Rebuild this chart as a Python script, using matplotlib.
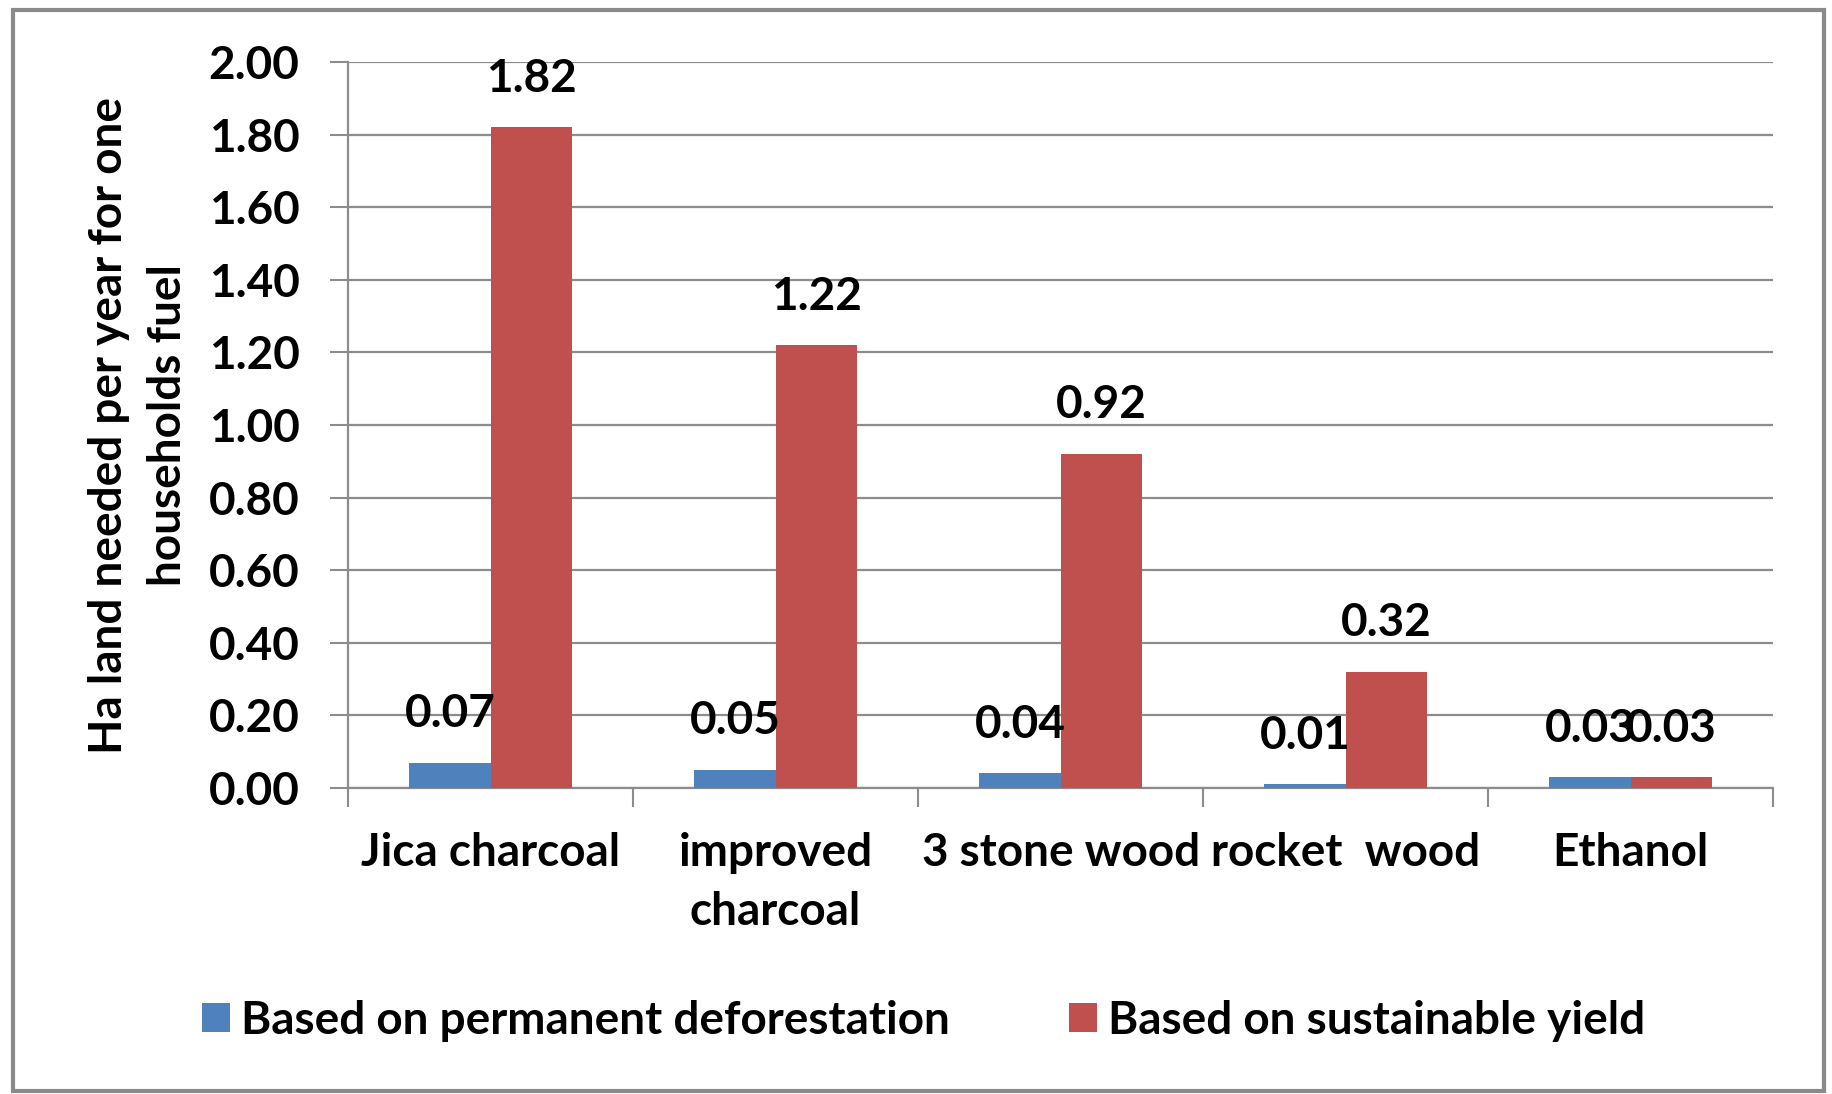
import numpy as np
import matplotlib
matplotlib.use("Agg")
import matplotlib.pyplot as plt
from matplotlib.patches import Rectangle
from matplotlib.ticker import FixedLocator


# ====================================================
# DATA
# ====================================================

categories = [
    "Jica charcoal",
    "improved\ncharcoal",
    "3 stone wood",
    "rocket  wood",
    "Ethanol"
]

deforestation = [0.07, 0.05, 0.04, 0.01, 0.03]

sustainable = [1.82, 1.22, 0.92, 0.32, 0.03]

series_names = [
    "Based on permanent deforestation",
    "Based on sustainable yield"
]

y_ticks = [0.0, 0.2, 0.4, 0.6, 0.8, 1.0, 1.2, 1.4, 1.6, 1.8, 2.0]


# ====================================================
# STYLE
# ====================================================

plt.rcParams["font.family"] = ["Lato", "DejaVu Sans"]
plt.rcParams["font.weight"] = "bold"

BLUE = "#4F81BD"
RED = "#C0504D"
GRID = "#8C8C8C"
FS = 33


# ====================================================
# FIGURE
# ====================================================

fig = plt.figure(
    figsize=(18.33, 10.94),
    dpi=100
)

ax = fig.add_axes([0.1899, 0.2797, 0.7774, 0.6636])

x = np.arange(len(categories))
width = 1 / 3.5

bars_a = ax.bar(
    x - width / 2,
    deforestation,
    width,
    color=BLUE,
    label=series_names[0],
    zorder=3
)

bars_b = ax.bar(
    x + width / 2,
    sustainable,
    width,
    color=RED,
    label=series_names[1],
    zorder=3
)

# value labels above each bar
for bars, values in [(bars_a, deforestation), (bars_b, sustainable)]:
    for b, v in zip(bars, values):
        ax.annotate(
            f"{v:.2f}",
            (b.get_x() + b.get_width() / 2, v),
            xytext=(0, 35),
            textcoords="offset points",
            ha="center",
            va="center",
            fontsize=FS,
            fontweight="bold",
            zorder=4
        )


# ====================================================
# AXES
# ====================================================

ax.set_xlim(-0.5, len(categories) - 0.5)
ax.set_ylim(0, 2.0)

ax.set_yticks(y_ticks)
ax.set_yticklabels([f"{t:.2f}" for t in y_ticks], fontsize=FS, fontweight="bold")

ax.set_xticks(x)
ax.set_xticklabels(categories, fontsize=FS, fontweight="bold", linespacing=1.5)
ax.xaxis.set_minor_locator(FixedLocator(np.arange(-0.5, len(categories), 1.0)))

ax.tick_params(axis="x", which="major", length=0, pad=32)
ax.tick_params(axis="x", which="minor", length=14, width=1.5, color=GRID)
ax.tick_params(axis="y", which="major", length=13, width=1.5, color=GRID, pad=22)

ax.grid(axis="y", color=GRID, linewidth=1.6, zorder=0)

for side in ["top", "right"]:
    ax.spines[side].set_visible(False)

for side in ["left", "bottom"]:
    ax.spines[side].set_color(GRID)
    ax.spines[side].set_linewidth(1.6)

ax.set_ylabel(
    "Ha land needed per year for one\nhouseholds fuel",
    fontsize=FS,
    fontweight="bold",
    labelpad=14,
    linespacing=1.5
)


# ====================================================
# LEGEND + FRAME
# ====================================================

fig.legend(
    handles=[bars_a, bars_b],
    labels=series_names,
    loc="center",
    bbox_to_anchor=(0.504, 0.067),
    ncol=2,
    frameon=False,
    fontsize=FS,
    handlelength=0.6,
    handleheight=0.6,
    handletextpad=0.25,
    columnspacing=2.6
)

fig.patches.append(
    Rectangle(
        (0.007, 0.003),
        0.988,
        0.988,
        transform=fig.transFigure,
        fill=False,
        edgecolor="#8A8A8A",
        linewidth=3
    )
)

fig.savefig("out.png", dpi=100)
